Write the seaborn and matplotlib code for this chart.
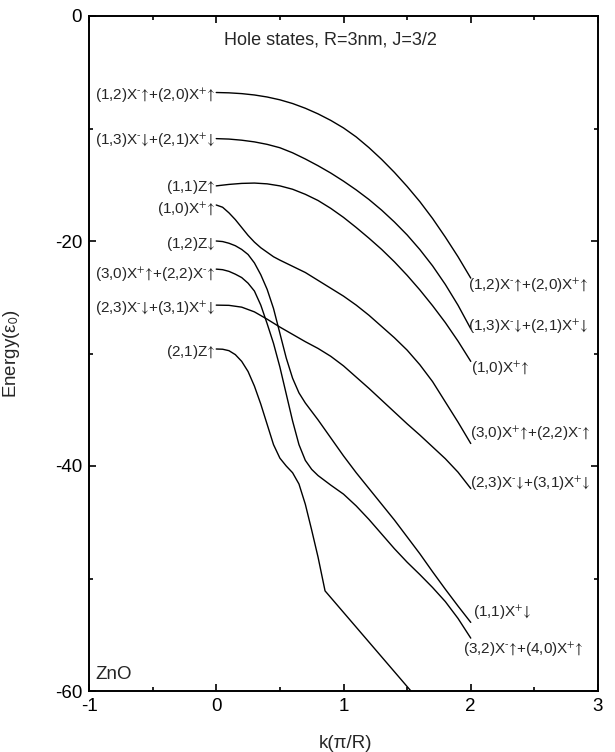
import numpy as np
import pandas as pd
import matplotlib
matplotlib.use("Agg")
import matplotlib.pyplot as plt
import seaborn as sns
from matplotlib.ticker import MultipleLocator

# ---------------- data ----------------
k1 = [0, 0.1, 0.2, 0.3, 0.4, 0.5, 0.6, 0.7, 0.8, 0.9, 1.0,
      1.1, 1.2, 1.3, 1.4, 1.5, 1.6, 1.7, 1.8, 1.9, 2.0]
e1 = [-6.8, -6.83, -6.9, -7.02, -7.2, -7.45, -7.78, -8.2, -8.7, -9.28, -9.95,
      -10.75, -11.7, -12.75, -13.9, -15.15, -16.5, -18.0, -19.65, -21.4, -23.3]

k2 = [0, 0.1, 0.2, 0.3, 0.4, 0.5, 0.6, 0.7, 0.8, 0.9, 1.0,
      1.1, 1.2, 1.3, 1.4, 1.5, 1.6, 1.7, 1.8, 1.9, 2.0]
e2 = [-10.9, -10.94, -11.04, -11.19, -11.41, -11.71, -12.16, -12.71, -13.31, -13.96, -14.68,
      -15.46, -16.31, -17.26, -18.31, -19.46, -20.76, -22.21, -23.86, -25.71, -27.8]

k3 = [0, 0.1, 0.2, 0.3, 0.4, 0.5, 0.6, 0.7, 0.8, 0.9, 1.0,
      1.1, 1.2, 1.3, 1.4, 1.5, 1.6, 1.7, 1.8, 1.9, 2.0]
e3 = [-15.1, -14.97, -14.88, -14.85, -14.92, -15.1, -15.4, -15.85, -16.4, -17.1, -17.9,
      -18.8, -19.75, -20.75, -21.85, -23.05, -24.35, -25.75, -27.25, -28.9, -30.7]

k4 = [0, 0.05, 0.1, 0.15, 0.2, 0.25, 0.3, 0.35, 0.4, 0.45, 0.5, 0.6, 0.7, 0.8, 0.9, 1.0,
      1.1, 1.2, 1.3, 1.4, 1.5, 1.6, 1.7, 1.8, 1.9, 2.0]
e4 = [-16.8, -17.0, -17.5, -18.1, -18.8, -19.5, -20.1, -20.6, -21.0, -21.4, -21.7, -22.25, -22.8,
      -23.5, -24.2, -24.9, -25.7, -26.6, -27.6, -28.6, -29.7, -31.0, -32.5, -34.3, -36.1, -38.0]

k5 = [0, 0.05, 0.1, 0.15, 0.2, 0.25, 0.3, 0.35, 0.4, 0.45, 0.5, 0.55, 0.6, 0.65, 0.7, 0.8, 0.9,
      1.0, 1.1, 1.2, 1.3, 1.4, 1.5, 1.6, 1.7, 1.8, 1.9, 2.0]
e5 = [-20.0, -20.05, -20.2, -20.42, -20.75, -21.2, -21.95, -23.0, -24.3, -26.0, -28.2, -30.4,
      -32.2, -33.5, -34.4, -35.9, -37.5, -39.1, -40.6, -42.0, -43.4, -44.8, -46.3, -47.8,
      -49.4, -50.95, -52.45, -53.9]

k6 = [0, 0.05, 0.1, 0.15, 0.2, 0.25, 0.3, 0.35, 0.4, 0.45, 0.5, 0.55, 0.6, 0.65, 0.7, 0.75,
      0.8, 0.9, 1.0, 1.1, 1.2, 1.3, 1.4, 1.5, 1.6, 1.7, 1.8, 1.9, 2.0]
e6 = [-22.5, -22.55, -22.7, -22.95, -23.25, -23.75, -24.45, -25.7, -27.35, -29.1, -31.2, -33.6,
      -36.0, -38.1, -39.5, -40.3, -40.85, -41.7, -42.5, -43.55, -44.75, -46.05, -47.35, -48.55,
      -49.65, -50.8, -52.05, -53.55, -55.3]

k7 = [0, 0.1, 0.2, 0.3, 0.4, 0.5, 0.6, 0.7, 0.8, 0.9, 1.0,
      1.1, 1.2, 1.3, 1.4, 1.5, 1.6, 1.7, 1.8, 1.9, 2.0]
e7 = [-25.7, -25.72, -25.88, -26.3, -26.95, -27.65, -28.3, -28.95, -29.55, -30.25, -31.1,
      -32.1, -33.1, -34.15, -35.2, -36.25, -37.25, -38.3, -39.35, -40.55, -42.0]

k8 = [0, 0.05, 0.1, 0.15, 0.2, 0.25, 0.3, 0.35, 0.4, 0.45, 0.5, 0.55, 0.6, 0.65, 0.7, 0.75,
      0.8, 0.855, 1.53]
e8 = [-29.6, -29.62, -29.75, -30.1, -30.7, -31.6, -32.9, -34.5, -36.3, -38.1, -39.3, -40.0,
      -40.6, -41.6, -43.4, -45.7, -48.1, -51.1, -60.0]

left_labels = [
    "(1,2)X$^{‐}↑$+(2,0)X$^{+}↑$",
    "(1,3)X$^{‐}↓$+(2,1)X$^{+}↓$",
    "(1,1)Z$↑$",
    "(1,0)X$^{+}↑$",
    "(1,2)Z$↓$",
    "(3,0)X$^{+}↑$+(2,2)X$^{‐}↑$",
    "(2,3)X$^{‐}↓$+(3,1)X$^{+}↓$",
    "(2,1)Z$↑$",
]
left_label_e = [-7.0, -11.0, -15.05, -17.1, -20.1, -22.9, -25.9, -29.7]

right_labels = [
    "(1,2)X$^{‐}↑$+(2,0)X$^{+}↑$",
    "(1,3)X$^{‐}↓$+(2,1)X$^{+}↓$",
    "(1,0)X$^{+}↑$",
    "(3,0)X$^{+}↑$+(2,2)X$^{‐}↑$",
    "(2,3)X$^{‐}↓$+(3,1)X$^{+}↓$",
    "(1,1)X$^{+}↓$",
    "(3,2)X$^{‐}↑$+(4,0)X$^{+}↑$",
]
right_label_k = [1.975, 1.975, 2.0, 1.995, 1.995, 2.02, 1.94]
right_label_e = [-23.9, -27.5, -31.25, -37.0, -41.5, -52.9, -56.2]

x_ticks = [-1, 0, 1, 2, 3]
y_ticks = [0, -20, -40, -60]

title_text = "Hole states, R=3nm, J=3/2"
material_text = "ZnO"

# ---------------- figure ----------------
sns.set_theme(style="ticks")
plt.rcParams["font.family"] = ["Liberation Sans", "DejaVu Sans"]
plt.rcParams["mathtext.fontset"] = "stixsans"
plt.rcParams["mathtext.default"] = "rm"
plt.rcParams["axes.unicode_minus"] = False

curves = [(k1, e1), (k2, e2), (k3, e3), (k4, e4), (k5, e5), (k6, e6), (k7, e7), (k8, e8)]
frames = []
for i, (kk, ee) in enumerate(curves):
    frames.append(pd.DataFrame({"k": kk, "E": ee, "curve": i}))
df = pd.concat(frames, ignore_index=True)

fig = plt.figure(figsize=(6.15, 7.52), dpi=100)
ax = fig.add_axes([89 / 615, 1 - 691 / 752, (598 - 89) / 615, (691 - 16) / 752])

sns.lineplot(data=df, x="k", y="E", units="curve", estimator=None, sort=False,
             color="black", linewidth=1.0, legend=False, ax=ax)

ax.set_xlim(-1, 3)
ax.set_ylim(-60, 0)
ax.set_xticks(x_ticks)
ax.set_yticks(y_ticks)
ax.xaxis.set_minor_locator(MultipleLocator(0.5))
ax.yaxis.set_minor_locator(MultipleLocator(10))
ax.tick_params(which="both", direction="in", top=True, right=True,
               width=1.2, labelsize=13.5, colors="black")
ax.tick_params(which="major", length=5, pad=5)
ax.tick_params(which="minor", length=3)
for s in ax.spines.values():
    s.set_visible(True)
    s.set_linewidth(1.4)
    s.set_color("black")

ax.set_xlabel("k(π/R)", fontsize=13.5)
ax.set_ylabel("Energy(ε$_0$)", fontsize=13.5)
ax.xaxis.set_label_coords(0.503, -0.065)
ax.yaxis.set_label_coords(-0.132, 0.5)

for txt, e in zip(left_labels, left_label_e):
    ax.text(-0.005, e - 0.48, txt, ha="right", va="baseline", fontsize=11)
for txt, kk, e in zip(right_labels, right_label_k, right_label_e):
    ax.text(kk, e - 0.48, txt, ha="left", va="baseline", fontsize=11, clip_on=False)

ax.text(0.475, 0.964, title_text, transform=ax.transAxes, ha="center", va="center", fontsize=13)
ax.text(0.012, 0.012, material_text, transform=ax.transAxes, ha="left", va="bottom", fontsize=13.5)

fig.savefig("out.png", dpi=100)
